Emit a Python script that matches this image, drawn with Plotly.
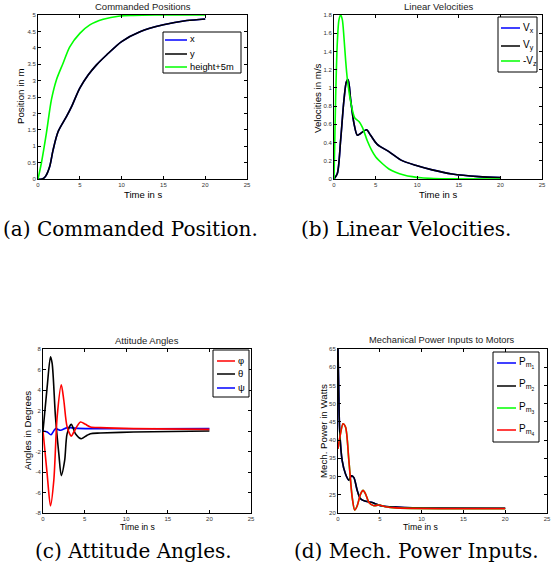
import plotly.graph_objects as go

W, H = 558, 578

# ---------- (a) Commanded Positions ----------
a_t_xy = [0, 0.5, 0.9, 1.4, 1.8, 2.4, 3.4, 4, 5, 6, 7, 8.2, 10, 12.2, 15, 17.8, 20]
a_x = [0, 0, 0.08, 0.38, 0.88, 1.44, 1.9, 2.2, 2.77, 3.17, 3.48, 3.78, 4.19, 4.49, 4.7, 4.83, 4.88]
a_y = [0, 0, 0.08, 0.38, 0.88, 1.44, 1.9, 2.2, 2.77, 3.17, 3.48, 3.78, 4.19, 4.49, 4.7, 4.83, 4.88]
a_t_h = [0, 0.4, 1, 1.6, 2.2, 3, 3.8, 5, 6.2, 7.8, 9.8, 11.4, 14, 20]
a_h = [0, 0.48, 1.39, 2.41, 3.02, 3.53, 4.03, 4.44, 4.7, 4.87, 4.97, 4.99, 5.0, 5.0]

# ---------- (b) Linear Velocities ----------
b_t_v = [0, 0.4, 0.8, 1.2, 1.5, 1.7, 2.0, 2.4, 2.8, 3.2, 3.9, 4.4, 5.2, 6.6, 8, 9.8, 11.8, 14.2, 17.4, 20]
b_vx = [0, 0.06, 0.43, 0.87, 1.07, 1.09, 0.87, 0.61, 0.48, 0.5, 0.54, 0.48, 0.38, 0.3, 0.21, 0.15, 0.1, 0.055, 0.026, 0.015]
b_vy = [0, 0.06, 0.43, 0.87, 1.07, 1.09, 0.87, 0.61, 0.48, 0.5, 0.54, 0.48, 0.38, 0.3, 0.21, 0.15, 0.1, 0.055, 0.026, 0.015]
b_t_z = [0, 0.2, 0.4, 0.6, 0.8, 1.0, 1.2, 1.4, 1.6, 2.0, 2.5, 3.0, 3.4, 4.0, 4.5, 5, 5.8, 6.6, 7.4, 8.4, 9.4, 10.5, 12, 14, 20]
b_vz = [0, 0.9, 1.5, 1.75, 1.8, 1.75, 1.55, 1.3, 1.1, 0.85, 0.67, 0.63, 0.57, 0.42, 0.32, 0.245, 0.17, 0.11, 0.075, 0.045, 0.026, 0.013, 0.006, 0.002, 0.0]

# ---------- (c) Attitude Angles ----------
c_t_th = [0, 0.5, 0.9, 1.1, 1.5, 1.9, 2.2, 2.6, 2.9, 3.4, 3.9, 4.6, 5.3, 5.7, 6.9, 10.9, 20]
c_th = [0, 4.3, 7.25, 6.6, 1.37, -2.2, -4.35, -2.9, -0.26, 0.65, -0.26, -0.75, -0.42, -0.26, -0.2, -0.1, 0.0]
c_t_ph = [0, 0.5, 0.9, 1.3, 1.7, 2.2, 2.5, 2.9, 3.4, 3.7, 4.5, 5.1, 5.7, 6.9, 10.9, 20]
c_ph = [0, -4.2, -7.3, -4.8, 1.37, 4.5, 3.0, 0.4, -0.5, -0.1, 0.88, 0.65, 0.4, 0.33, 0.23, 0.16]
c_t_ps = [0, 0.5, 0.96, 1.5, 2.1, 2.9, 4.1, 20]
c_ps = [0, -0.1, -0.36, 0.23, 0.07, 0.33, 0.26, 0.23]

# ---------- (d) Mechanical Power Inputs ----------
d_t_12 = [0, 0.08, 0.2, 0.5, 0.9, 1.3, 1.6, 1.9, 2.3, 2.7, 3.3, 4.1, 4.5, 5.3, 6.9, 8.9, 20]
d_p1 = [65, 54.6, 42.7, 34.4, 30.7, 29.0, 30.2, 29.7, 26.2, 23.9, 23.2, 22.9, 22.5, 21.9, 21.6, 21.4, 21.3]
d_p2 = [65, 54.6, 42.7, 34.4, 30.7, 29.0, 30.2, 29.7, 26.2, 23.9, 23.2, 22.9, 22.5, 21.9, 21.6, 21.4, 21.3]
d_t_34 = [0, 0.3, 0.6, 0.9, 1.3, 1.7, 2.0, 2.3, 2.7, 3.0, 3.3, 3.7, 4.3, 4.9, 5.7, 6.9, 20]
d_p3 = [37.6, 41.8, 44.5, 43.6, 34.4, 24.3, 20.8, 22.0, 25.2, 26.2, 25.2, 22.9, 22.0, 22.2, 21.7, 21.4, 21.2]
d_p4 = [37.6, 41.8, 44.5, 43.6, 34.4, 24.3, 20.8, 22.0, 25.2, 26.2, 25.2, 22.9, 22.0, 22.2, 21.7, 21.4, 21.2]

x_ticks = [0, 5, 10, 15, 20, 25]
a_yticks = [0, 0.5, 1, 1.5, 2, 2.5, 3, 3.5, 4, 4.5, 5]
b_yticks = [0, 0.2, 0.4, 0.6, 0.8, 1, 1.2, 1.4, 1.6, 1.8]
c_yticks = [-8, -6, -4, -2, 0, 2, 4, 6, 8]
d_yticks = [20, 25, 30, 35, 40, 45, 50, 55, 60, 65]

a_names = ["x", "y", "height+5m"]
b_names = ["V<sub>x</sub>", "V<sub>y</sub>", "-V<sub>z</sub>"]
c_names = ["φ", "θ", "ψ"]
d_names = ["P<sub>m<sub>1</sub></sub>", "P<sub>m<sub>2</sub></sub>",
           "P<sub>m<sub>3</sub></sub>", "P<sub>m<sub>4</sub></sub>"]

BLUE, BLACK, GREEN, RED = "#0000ff", "#000000", "#00ff00", "#ff0000"
SANS = "Liberation Sans, Arial, sans-serif"
SERIF = "DejaVu Serif, serif"


def px2x(p):
    return p / W


def px2y(p):
    return 1 - p / H


# axes boxes in pixels: (left, right, top, bottom)
boxes = {
    "a": (38, 247, 15, 179),
    "b": (334, 542, 15, 179),
    "c": (43, 251, 349, 513),
    "d": (338, 547, 349, 513),
}

fig = go.Figure()


def line(x, y, color, name, ax):
    xa = "x" if ax == 1 else f"x{ax}"
    ya = "y" if ax == 1 else f"y{ax}"
    fig.add_trace(go.Scatter(
        x=x, y=y, mode="lines", name=name, xaxis=xa, yaxis=ya,
        line=dict(color=color, width=1.6, shape="spline", smoothing=0.8),
        showlegend=False, hoverinfo="skip",
    ))


line(a_t_xy, a_x, BLUE, a_names[0], 1)
line(a_t_xy, a_y, BLACK, a_names[1], 1)
line(a_t_h, a_h, GREEN, a_names[2], 1)

line(b_t_v, b_vx, BLUE, b_names[0], 2)
line(b_t_v, b_vy, BLACK, b_names[1], 2)
line(b_t_z, b_vz, GREEN, b_names[2], 2)

line(c_t_ps, c_ps, BLUE, c_names[2], 3)
line(c_t_th, c_th, BLACK, c_names[1], 3)
line(c_t_ph, c_ph, RED, c_names[0], 3)

line(d_t_12, d_p1, BLUE, d_names[0], 4)
line(d_t_12, d_p2, BLACK, d_names[1], 4)
line(d_t_34, d_p3, GREEN, d_names[2], 4)
line(d_t_34, d_p4, RED, d_names[3], 4)

tickfont = dict(family=SANS, size=6, color="#333333")


def axis_common():
    return dict(showline=True, linecolor="#000000", linewidth=1, mirror="ticks",
                ticks="inside", ticklen=3, tickcolor="#000000", showgrid=False,
                zeroline=False, tickfont=tickfont)


yticks = {"a": (a_yticks, [0, 5]), "b": (b_yticks, [0, 1.8]),
          "c": (c_yticks, [-8, 8]), "d": (d_yticks, [20, 65])}
layout = {}
for i, k in enumerate("abcd", start=1):
    l, r, t, b = boxes[k]
    xs = "xaxis" if i == 1 else f"xaxis{i}"
    ys = "yaxis" if i == 1 else f"yaxis{i}"
    ya = "y" if i == 1 else f"y{i}"
    xa = "x" if i == 1 else f"x{i}"
    layout[xs] = dict(domain=[px2x(l), px2x(r)], range=[0, 25], tickvals=x_ticks,
                      anchor=ya, **axis_common())
    tv, rg = yticks[k]
    layout[ys] = dict(domain=[px2y(b), px2y(t)], range=rg, tickvals=tv,
                      ticktext=[("%g" % v) for v in tv], anchor=xa, **axis_common())
fig.update_layout(**layout)

ann = []
shapes = []


def text(x, y, s, size, family=SANS, angle=0, color="#000000", xanchor="center"):
    ann.append(dict(x=px2x(x), y=px2y(y), xref="paper", yref="paper", text=s,
                    showarrow=False, font=dict(family=family, size=size, color=color),
                    textangle=angle, xanchor=xanchor, yanchor="middle"))


def legend_box(l, r, t, b, x0, x1, ys, names, colors, size=9.5):
    shapes.append(dict(type="rect", xref="paper", yref="paper",
                       x0=px2x(l), x1=px2x(r), y0=px2y(b), y1=px2y(t),
                       line=dict(color="#000000", width=1), fillcolor="#ffffff", layer="above"))
    for yy, nm, c in zip(ys, names, colors):
        shapes.append(dict(type="line", xref="paper", yref="paper",
                           x0=px2x(x0), x1=px2x(x1), y0=px2y(yy), y1=px2y(yy),
                           line=dict(color=c, width=1.5), layer="above"))
        text(x1 + 1, yy - 0.5, nm, size, xanchor="left")


legend_box(163, 241, 32, 73, 165, 187, [40, 54, 67], a_names, [BLUE, BLACK, GREEN], size=9.3)
legend_box(498, 537, 17, 72, 501, 520, [28, 46, 61], b_names, [BLUE, BLACK, GREEN], size=10)
legend_box(213, 249, 350, 397, 217, 235, [361, 374, 388], c_names, [RED, BLACK, BLUE], size=9.5)
legend_box(493, 539, 352, 442, 497, 516, [363, 386, 408, 430], d_names,
           [BLUE, BLACK, GREEN, RED], size=10)

# titles
text(143, 6, "Commanded Positions", 9.5, color="#222222")
text(438, 6, "Linear Velocities", 9.5, color="#222222")
text(147, 340, "Attitude Angles", 9.5, color="#222222")
text(442, 340, "Mechanical Power Inputs to Motors", 9.3, color="#222222")
# x labels
text(143, 194, "Time in s", 9.5)
text(438, 194, "Time in s", 9.5)
text(138, 527, "Time in s", 8.7)
text(421, 527, "Time in s", 8.7)
# y labels
text(20, 97, "Position in m", 9.7, angle=-90)
text(318, 98, "Velocities in m/s", 9.7, angle=-90)
text(27, 431, "Angles in Degrees", 9.7, angle=-90)
text(323, 431, "Mech. Power in Watts", 9.7, angle=-90)
# captions
text(130, 229, "(a) Commanded Position.", 20, family=SERIF)
text(406, 229, "(b) Linear Velocities.", 20, family=SERIF)
text(133, 551, "(c) Attitude Angles.", 20, family=SERIF)
text(292, 551, "(d) Mech. Power Inputs.", 20, family=SERIF, xanchor="left")

fig.update_layout(
    annotations=ann,
    shapes=shapes,
    width=W, height=H,
    margin=dict(l=0, r=0, t=0, b=0, autoexpand=False),
    paper_bgcolor="#ffffff", plot_bgcolor="#ffffff",
    showlegend=False,
    hovermode=False,
)

fig.write_html("out.html", config={"displayModeBar": False},
               post_script="document.body.style.margin='0px';")
